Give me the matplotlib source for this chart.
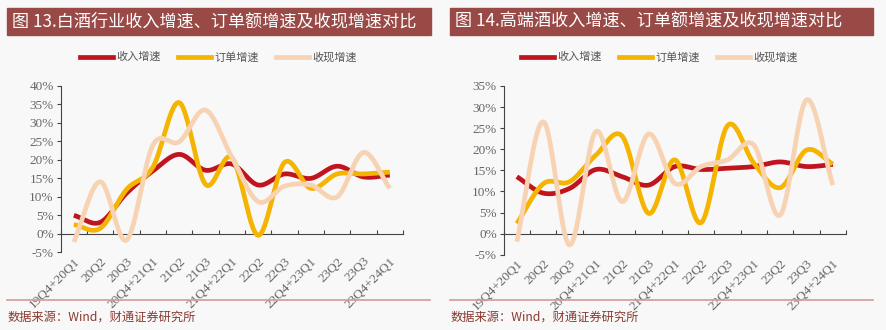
import numpy as np
import matplotlib.pyplot as plt
from matplotlib.patches import Rectangle
from matplotlib.lines import Line2D

plt.rcParams['font.family'] = ['Noto Sans CJK SC', 'DejaVu Sans']

# categories
quarters = ["19Q4+20Q1", "20Q2", "20Q3", "20Q4+21Q1", "21Q2", "21Q3", "21Q4+22Q1",
            "22Q2", "22Q3", "22Q4+23Q1", "23Q2", "23Q3", "23Q4+24Q1"]

# 图13 白酒行业 (%)
liquor_rev = [5.0, 3.1, 11.0, 17.0, 21.5, 17.2, 18.9, 13.2, 16.2, 15.0, 18.3, 15.4, 15.9]
liquor_order = [2.5, 1.5, 12.0, 18.0, 35.5, 13.4, 20.6, -0.4, 19.3, 12.3, 16.2, 16.2, 16.7]
liquor_cash = [-2.2, 14.1, -1.7, 24.0, 24.9, 33.5, 20.8, 8.7, 12.9, 13.2, 10.0, 22.0, 12.3]

# 图14 高端酒 (%)
high_rev = [13.5, 9.6, 10.7, 15.2, 13.5, 11.5, 15.9, 15.2, 15.5, 15.9, 17.0, 15.9, 16.4]
high_order = [2.4, 11.8, 12.3, 18.6, 23.1, 4.8, 17.5, 2.6, 25.6, 16.7, 10.9, 19.8, 16.5]
high_cash = [-1.9, 26.5, -2.7, 24.2, 7.6, 23.6, 11.9, 15.9, 17.5, 21.0, 4.4, 31.7, 11.5]

series_names = ["收入增速", "订单增速", "收现增速"]
colors = ["#c0141e", "#f5b400", "#f7d3b4"]

bg = "#f8f8f8"
bar_color = "#9a4a46"
tick_gray = "#666666"


def smooth(xs, ys, n=30):
    # catmull-rom curve through the points, for drawing only
    xs = np.asarray(xs, float)
    ys = np.asarray(ys, float)
    px = np.concatenate([[2 * xs[0] - xs[1]], xs, [2 * xs[-1] - xs[-2]]])
    py = np.concatenate([[2 * ys[0] - ys[1]], ys, [2 * ys[-1] - ys[-2]]])
    outx, outy = [], []
    t = np.linspace(0, 1, n, endpoint=False)
    for i in range(1, len(px) - 2):
        for p, out in ((px, outx), (py, outy)):
            p0, p1, p2, p3 = p[i - 1], p[i], p[i + 1], p[i + 2]
            out.extend(0.5 * (2 * p1 + (-p0 + p2) * t + (2 * p0 - 5 * p1 + 4 * p2 - p3) * t ** 2
                              + (-p0 + 3 * p1 - 3 * p2 + p3) * t ** 3))
    outx.append(xs[-1])
    outy.append(ys[-1])
    return np.array(outx), np.array(outy)


fig = plt.figure(figsize=(8.87, 3.3), dpi=100)
fig.patch.set_facecolor(bg)

panels = [
    dict(title="图 13.白酒行业收入增速、订单额增速及收现增速对比",
         data=[liquor_rev, liquor_order, liquor_cash], ylim=(-5, 40),
         rect=[60.7 / 887, 1 - 252.3 / 330, 342.3 / 887, 166.3 / 330],
         bar=(7, 424), legend_x=80, src_x=8, rule=(7, 430)),
    dict(title="图 14.高端酒收入增速、订单额增速及收现增速对比",
         data=[high_rev, high_order, high_cash], ylim=(-5, 35),
         rect=[503.7 / 887, 1 - 254.7 / 330, 342.3 / 887, 168.7 / 330],
         bar=(450, 423), legend_x=521, src_x=451, rule=(450, 873)),
]

x = np.arange(len(quarters))

for p in panels:
    # title bar
    fig.patches.append(Rectangle((p['bar'][0] / 887, 1 - 34.5 / 330), p['bar'][1] / 887, 26.5 / 330,
                                 transform=fig.transFigure, color=bar_color, zorder=0))
    fig.text((p['bar'][0] + 5) / 887, 1 - 21.5 / 330, p['title'], color='white',
             fontsize=12.3, va='center', ha='left')

    ax = fig.add_axes(p['rect'])
    ax.set_facecolor(bg)
    for vals, c in zip(p['data'], colors):
        sx, sy = smooth(x, vals)
        ax.plot(sx, sy, color=c, lw=3.4, solid_capstyle='butt', zorder=3)

    ax.set_xlim(-0.5, len(quarters) - 0.5)
    ax.set_ylim(*p['ylim'])
    ax.set_yticks(np.arange(p['ylim'][0], p['ylim'][1] + 1, 5))
    ax.set_yticklabels([f"{v}%" for v in np.arange(p['ylim'][0], p['ylim'][1] + 1, 5)],
                       family='Liberation Serif', fontsize=9.5, color=tick_gray)
    ax.tick_params(axis='y', direction='out', length=3, width=0.8, color='#444444', pad=2)

    for s in ['top', 'right', 'bottom']:
        ax.spines[s].set_visible(False)
    ax.spines['left'].set_color('#444444')
    ax.spines['left'].set_linewidth(0.8)

    # category labels at bottom
    ax.set_xticks(x)
    ax.set_xticklabels(quarters, rotation=45, ha='right', rotation_mode='anchor',
                       family='Liberation Serif', fontsize=9.5, color=tick_gray)
    ax.tick_params(axis='x', length=0, pad=2)

    # axis line at zero
    sec = ax.secondary_xaxis(0, transform=ax.transData)
    sec.set_xticks(np.arange(-0.5, len(quarters), 1))
    sec.set_xticklabels([])
    sec.tick_params(direction='in', length=3, width=0.8, color='#444444')
    sec.spines['bottom'].set_color('#444444')
    sec.spines['bottom'].set_linewidth(0.8)

    # legend
    lx = p['legend_x']
    for i, (name, c) in enumerate(zip(series_names, colors)):
        x0 = lx + i * 98
        fig.add_artist(Line2D([x0 / 887, (x0 + 33) / 887], [1 - 57 / 330] * 2, color=c, lw=3.4,
                              transform=fig.transFigure))
        fig.text((x0 + 36) / 887, 1 - 57 / 330, name, fontsize=8, color='#555555', va='center')

    # bottom rule and source
    fig.add_artist(Line2D([p['rule'][0] / 887, p['rule'][1] / 887], [1 - 300 / 330] * 2,
                          color='#d49a96', lw=1.2, transform=fig.transFigure))
    fig.text(p['src_x'] / 887, 1 - 317 / 330, "数据来源：Wind，财通证券研究所", fontsize=8.8,
             color='#8b3a30', va='center')

fig.savefig("out.png", dpi=100, facecolor=bg)
